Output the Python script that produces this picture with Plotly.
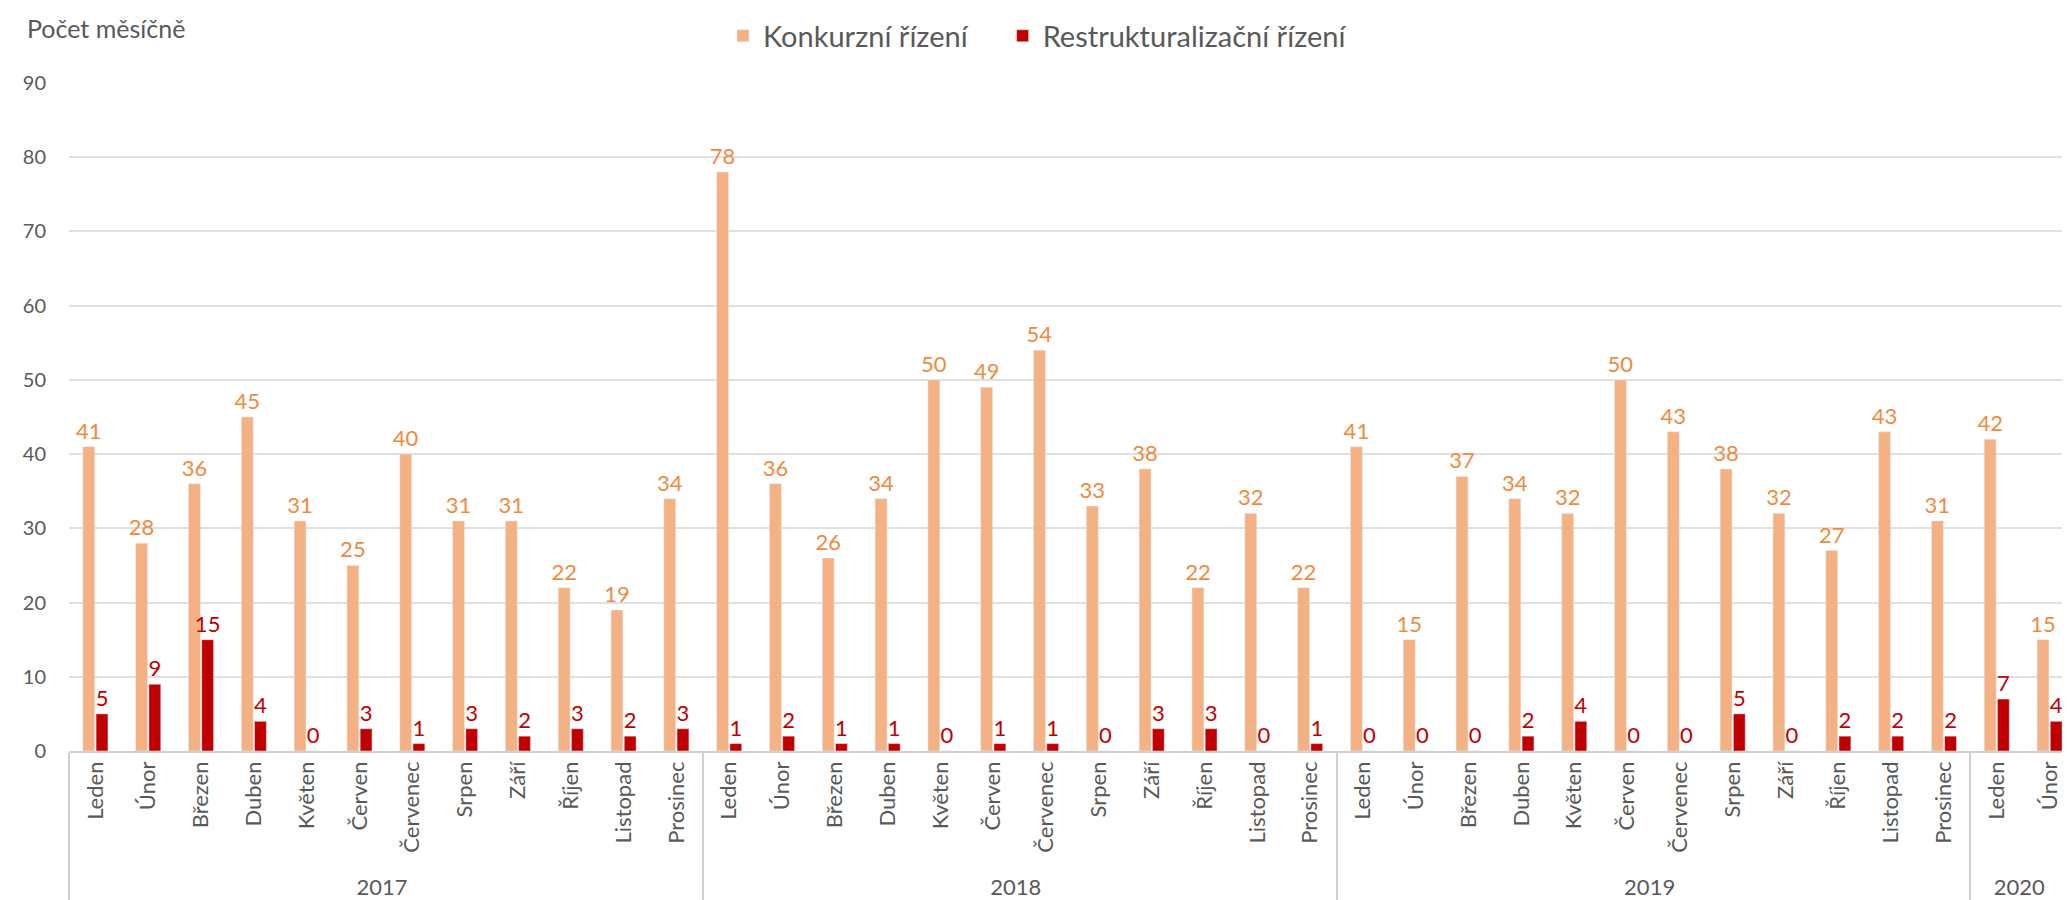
import plotly.graph_objects as go

months = ["Leden", "Únor", "Březen", "Duben", "Květen", "Červen", "Červenec",
          "Srpen", "Září", "Říjen", "Listopad", "Prosinec"]
years = ["2017"] * 12 + ["2018"] * 12 + ["2019"] * 12 + ["2020"] * 2
month_labels = months * 3 + months[:2]

konkurz = [41, 28, 36, 45, 31, 25, 40, 31, 31, 22, 19, 34,
           78, 36, 26, 34, 50, 49, 54, 33, 38, 22, 32, 22,
           41, 15, 37, 34, 32, 50, 43, 38, 32, 27, 43, 31,
           42, 15]
restrukt = [5, 9, 15, 4, 0, 3, 1, 3, 2, 3, 2, 3,
            1, 2, 1, 1, 0, 1, 1, 0, 3, 3, 0, 1,
            0, 0, 0, 2, 4, 0, 0, 5, 0, 2, 2, 2,
            7, 4]

font_family = "Lato, 'Open Sans', sans-serif"
x = [years, month_labels]

fig = go.Figure()
fig.add_trace(go.Bar(
    x=x, y=konkurz, name="Konkurzní řízení",
    marker_color="#F4B183", legend="legend", showlegend=True,
    text=konkurz, textposition="outside", cliponaxis=False,
    constraintext="none",
    textfont=dict(color="#F08A3E", size=22, family=font_family),
))
fig.add_trace(go.Bar(
    x=x, y=restrukt, name="Restrukturalizační řízení",
    marker_color="#C00000", legend="legend2", showlegend=True,
    text=restrukt, textposition="outside", cliponaxis=False,
    constraintext="none",
    textfont=dict(color="#C00000", size=22, family=font_family),
))

legend_style = dict(orientation="h", xref="container", xanchor="left",
                    yref="container", y=0.969, yanchor="middle",
                    font=dict(size=29, color="#595959"), itemwidth=30)

fig.update_layout(
    width=2070, height=900, showlegend=True,
    paper_bgcolor="white", plot_bgcolor="white",
    barmode="group", bargap=0.5, bargroupgap=0.1,
    margin=dict(l=61, r=2, t=75, b=157, autoexpand=False),
    font=dict(family=font_family, color="#595959", size=22),
    legend=dict(legend_style, x=0.3454),
    legend2=dict(legend_style, x=0.4805),
    annotations=[dict(text="Počet měsíčně", xref="paper", yref="paper",
                      x=-0.022, y=1.082, xanchor="left", yanchor="middle",
                      showarrow=False, font=dict(size=25, color="#595959"))],
)
fig.update_yaxes(range=[0, 90], dtick=10, showgrid=True, gridcolor="#E0E0E0",
                 gridwidth=1.5, zeroline=False, showline=False,
                 tickfont=dict(size=20, color="#595959"), ticks="",
                 ticklabelstandoff=22, automargin=False)
fig.update_xaxes(type="multicategory", tickangle=-90, autotickangles=[-90],
                 showline=True, linecolor="#D0D0D0", linewidth=1.5,
                 showdividers=True, dividercolor="#D0D0D0", dividerwidth=1.5,
                 tickfont=dict(size=22, color="#595959"), automargin=False)

fig.write_html("out.html")
